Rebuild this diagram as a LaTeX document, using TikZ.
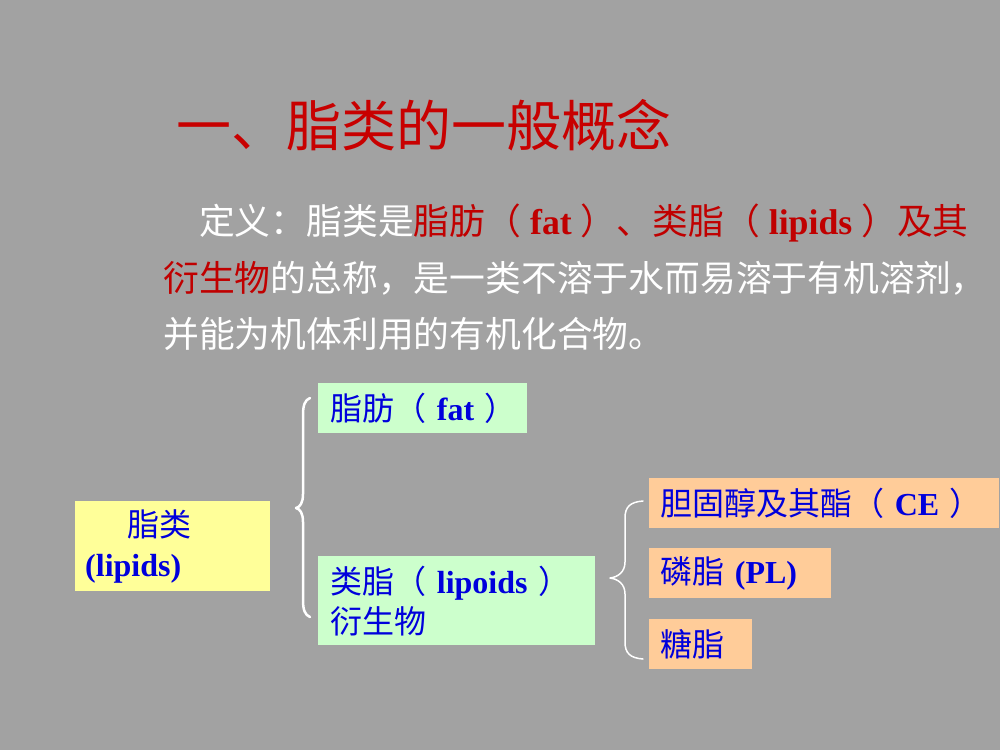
\documentclass[tikz,border=0pt]{standalone}
\usepackage{fontspec}
\setmainfont{Noto Sans CJK SC}
\newfontfamily\latf{Liberation Serif}
\newcommand{\lt}[1]{{\latf\bfseries #1}}
\definecolor{bgc}{RGB}{162,162,162}
\definecolor{titlered}{RGB}{200,0,0}
\definecolor{defred}{RGB}{192,0,0}
\definecolor{txtblue}{RGB}{0,0,220}
\definecolor{yel}{RGB}{255,255,153}
\definecolor{grn}{RGB}{204,255,204}
\definecolor{org}{RGB}{255,204,153}
\begin{document}
\begin{tikzpicture}[x=1pt,y=-1pt,
  deftext/.style={anchor=base west, inner sep=0pt, text=white, font=\fontsize{35.8}{42}\selectfont},
  box/.style={anchor=north west, inner ysep=0pt, align=left, text=txtblue,
    font=\fontsize{32}{40}\selectfont},
  bracestyle/.style={draw=white, line cap=round, line join=round}]
\fill[bgc] (0,0) rectangle (1000,750);
\useasboundingbox (0,0) rectangle (1000,750);

\node[anchor=base west, inner sep=0pt, text=titlered, font=\fontsize{55}{60}\selectfont] (title) at (176,146) {一、脂类的一般概念};

\node[deftext] (def1) at (163,234) {\hspace*{1em}定义：脂类是\textcolor{defred}{脂肪（\lt{ fat }）、类脂（\lt{ lipids }）及其}};
\node[deftext] (def2) at (163,291) {\textcolor{defred}{衍生物}的总称，是一类不溶于水而易溶于有机溶剂，};
\node[deftext] (def3) at (163,347) {并能为机体利用的有机化合物。};

\node[box, fill=yel, inner xsep=10pt, text width=175pt, minimum height=90pt] (lipids) at (75,501) {\mbox{\hspace*{42pt}脂类}\\\mbox{\lt{(lipids)}}};
\node[box, fill=grn, inner xsep=12pt, text width=185pt, minimum height=50pt] (fat) at (318,383) {\mbox{脂肪（\lt{ fat }）}};
\node[box, fill=grn, inner xsep=12pt, text width=253pt, minimum height=89pt] (lipoids) at (318,556) {\mbox{类脂（\lt{ lipoids }）}\\\mbox{衍生物}};
\node[box, fill=org, inner xsep=11pt, text width=328pt, minimum height=50pt] (ce) at (649,478) {\mbox{胆固醇及其酯（\lt{ CE }）}};
\node[box, fill=org, inner xsep=11pt, text width=160pt, minimum height=50pt] (pl) at (649,548) {\mbox{磷脂\lt{ (PL)}}};
\node[box, fill=org, inner xsep=11pt, text width=81pt, minimum height=50pt] (gl) at (649,619) {\mbox{糖脂}};

\draw[bracestyle, line width=2.5pt] (310,398) .. controls (305,400) and (303,405) .. (303,415) -- (303,494) .. controls (303,503) and (300,507) .. (296,508) .. controls (300,509) and (303,513) .. (303,522) -- (303,600) .. controls (303,610) and (305,615) .. (310,617);
\draw[bracestyle, line width=1.5pt] (643,501) .. controls (630,502) and (625,507) .. (625,518) -- (625,562) .. controls (625,572) and (618,577) .. (610,578) .. controls (618,579) and (625,584) .. (625,594) -- (625,642) .. controls (625,653) and (630,658) .. (643,659);
\end{tikzpicture}
\end{document}
